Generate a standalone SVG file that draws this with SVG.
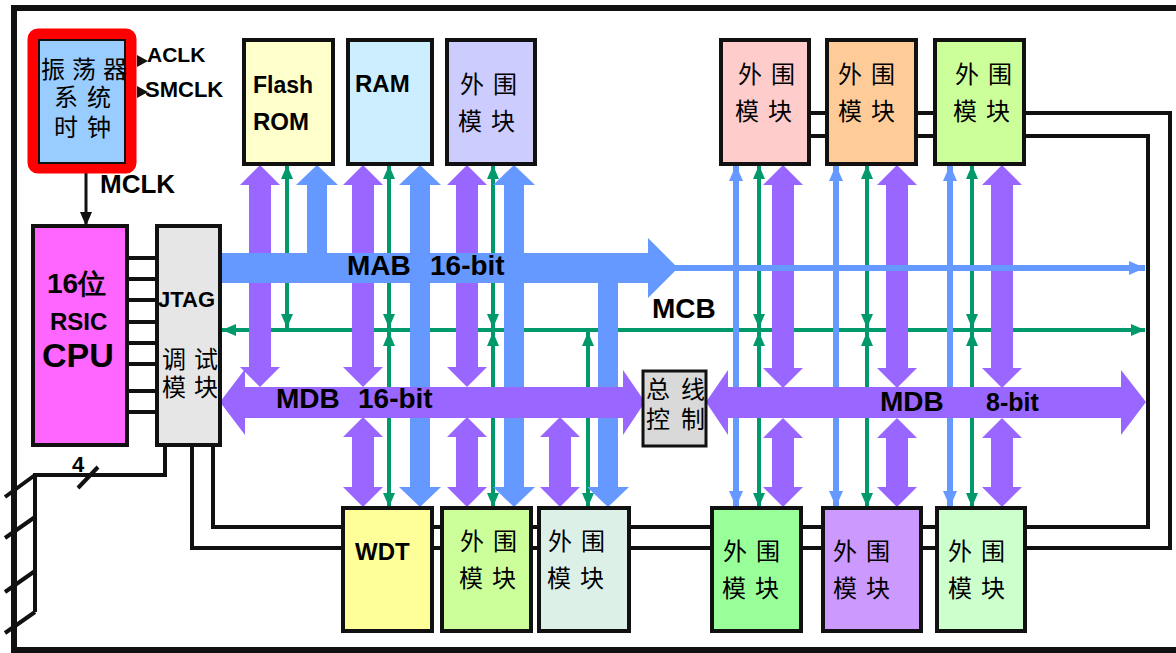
<svg xmlns="http://www.w3.org/2000/svg" width="1176" height="653" viewBox="0 0 1176 653">
<style>
.box{stroke:#111;stroke-width:4}
.lat{font-family:"Liberation Sans",Arial,sans-serif;font-weight:bold;fill:#000}
.cjk{font-family:"Noto Sans CJK SC",sans-serif;font-size:24px;letter-spacing:9px;fill:#000}
.wire{fill:none;stroke:#111;stroke-width:4}
.g{stroke:#00996b;stroke-width:4;fill:none}
.b{stroke:#6699ff;stroke-width:6;fill:none}
.pur{fill:#9966ff}
.blu{fill:#6699ff}
</style>
<defs>
<marker id="ga" markerUnits="userSpaceOnUse" markerWidth="14" markerHeight="12" refX="14" refY="6" orient="auto-start-reverse"><path d="M0,0 L14,6 L0,12 z" fill="#00996b"/></marker>
<marker id="ba" markerUnits="userSpaceOnUse" markerWidth="16" markerHeight="14" refX="16" refY="7" orient="auto-start-reverse"><path d="M0,0 L16,7 L0,14 z" fill="#6699ff"/></marker>
<marker id="ka" markerUnits="userSpaceOnUse" markerWidth="14" markerHeight="12" refX="14" refY="6" orient="auto"><path d="M0,0 L14,6 L0,12 z" fill="#111"/></marker>
</defs>
<rect x="0" y="0" width="1176" height="653" fill="#fff"/>
<rect x="14" y="8" width="1175" height="642" fill="none" stroke="#111" stroke-width="6"/>

<g id="connectors">
<path class="wire" d="M192,445 V548 H1170 V113 H765"/>
<path class="wire" d="M213,445 V527 H1148 V136 H765"/>
<path class="wire" d="M165,445 V475 H35 V612"/>
<path class="wire" d="M35,475 L5,497 M35,517 L5,538 M35,571 L5,592 M35,612 L5,633 M78,488 L98,467"/>
<path class="wire" d="M127,258 H157 M127,279 H157 M127,300 H157 M127,322 H157 M127,343 H157 M127,364 H157 M127,391 H157 M127,412 H157"/>
<polygon points="137,55 148,61 137,67" fill="#111"/>
<polygon points="137,86 148,92 137,98" fill="#111"/>
<line x1="86" y1="173" x2="86" y2="226" stroke="#111" stroke-width="3" marker-end="url(#ka)"/>
<line class="g" x1="222" y1="330" x2="1145" y2="330" marker-start="url(#ga)" marker-end="url(#ga)"/>
<g class="g">
<line x1="287" y1="165" x2="287" y2="328" marker-start="url(#ga)" marker-end="url(#ga)"/>
<line x1="389" y1="165" x2="389" y2="328" marker-start="url(#ga)" marker-end="url(#ga)"/>
<line x1="389" y1="332" x2="389" y2="507" marker-start="url(#ga)" marker-end="url(#ga)"/>
<line x1="493" y1="165" x2="493" y2="328" marker-start="url(#ga)" marker-end="url(#ga)"/>
<line x1="493" y1="332" x2="493" y2="507" marker-start="url(#ga)" marker-end="url(#ga)"/>
<line x1="588" y1="332" x2="588" y2="507" marker-start="url(#ga)" marker-end="url(#ga)"/>
<line x1="759" y1="165" x2="759" y2="328" marker-start="url(#ga)" marker-end="url(#ga)"/>
<line x1="759" y1="332" x2="759" y2="507" marker-start="url(#ga)" marker-end="url(#ga)"/>
<line x1="867" y1="165" x2="867" y2="328" marker-start="url(#ga)" marker-end="url(#ga)"/>
<line x1="867" y1="332" x2="867" y2="507" marker-start="url(#ga)" marker-end="url(#ga)"/>
<line x1="972" y1="165" x2="972" y2="328" marker-start="url(#ga)" marker-end="url(#ga)"/>
<line x1="972" y1="332" x2="972" y2="507" marker-start="url(#ga)" marker-end="url(#ga)"/>
</g>
<g class="pur">
<polygon points="260,165 280,185 271,185 271,367 280,367 260,387 240,367 249,367 249,185 240,185"/>
<polygon points="363,165 383,185 374,185 374,367 383,367 363,387 343,367 352,367 352,185 343,185"/>
<polygon points="467,165 487,185 478,185 478,367 487,367 467,387 447,367 456,367 456,185 447,185"/>
<polygon points="363,417 383,437 374,437 374,487 383,487 363,507 343,487 352,487 352,437 343,437"/>
<polygon points="467,417 487,437 478,437 478,487 487,487 467,507 447,487 456,487 456,437 447,437"/>
<polygon points="560,417 580,437 571,437 571,487 580,487 560,507 540,487 549,487 549,437 540,437"/>
<polygon points="783,165 803,185 794,185 794,368 803,368 783,388 763,368 772,368 772,185 763,185"/>
<polygon points="897,165 917,185 908,185 908,368 917,368 897,388 877,368 886,368 886,185 877,185"/>
<polygon points="1002,165 1022,185 1013,185 1013,368 1022,368 1002,388 982,368 991,368 991,185 982,185"/>
<polygon points="783,418 803,438 794,438 794,487 803,487 783,507 763,487 772,487 772,438 763,438"/>
<polygon points="897,418 917,438 908,438 908,487 917,487 897,507 877,487 886,487 886,438 877,438"/>
<polygon points="1002,418 1022,438 1013,438 1013,487 1022,487 1002,507 982,487 991,487 991,438 982,438"/>
</g>
<g class="b">
<line x1="736" y1="165" x2="736" y2="507" marker-start="url(#ba)" marker-end="url(#ba)"/>
<line x1="836" y1="165" x2="836" y2="507" marker-start="url(#ba)" marker-end="url(#ba)"/>
<line x1="950" y1="165" x2="950" y2="507" marker-start="url(#ba)" marker-end="url(#ba)"/>
<line x1="670" y1="268" x2="1145" y2="268" marker-end="url(#ba)"/>
</g>
<g class="blu">
<polygon points="317,165 338,185 327,185 327,256 307,256 307,185 296,185"/>
<polygon points="420,165 441,185 430,185 430,487 441,487 420,507 399,487 410,487 410,185 399,185"/>
<polygon points="514,165 535,185 524,185 524,487 535,487 514,507 493,487 504,487 504,185 493,185"/>
<polygon points="598,280 618,280 618,487 629,487 608,507 587,487 598,487"/>
<polygon points="220,253 648,253 648,238 678,268 648,298 648,283 220,283"/>
</g>
<g class="pur">
<polygon points="220,402 245,369 245,387 623,387 623,370 645,402 623,435 623,418 245,418 245,435"/>
<polygon points="706,402 728,370 728,387 1121,387 1121,370 1146,402 1121,435 1121,418 728,418 728,435"/>
</g>
<text class="lat" x="347" y="275" font-size="28">MAB<tspan x="430">16-bit</tspan></text>
<text class="lat" x="652" y="318" font-size="28">MCB</text>
<text class="lat" x="276" y="408" font-size="28">MDB<tspan x="358">16-bit</tspan></text>
<text class="lat" x="880" y="411" font-size="28">MDB<tspan x="986" font-size="25">8-bit</tspan></text>
</g>

<g id="clock">
<rect x="33" y="34" width="98" height="134" rx="5" fill="#ff0000" stroke="#ff0000" stroke-width="11"/>
<rect x="39" y="40" width="86" height="123" fill="#99ccff" stroke="#111" stroke-width="2"/>
<text class="cjk" x="41" y="78" style="font-size:24px;letter-spacing:7px">振荡器</text>
<text class="cjk" x="54" y="106" style="font-size:24px;letter-spacing:9px">系统</text>
<text class="cjk" x="54" y="136" style="font-size:24px;letter-spacing:9px">时钟</text>
<text class="lat" x="147" y="62" font-size="21">ACLK</text>
<text class="lat" x="145" y="97" font-size="22">SMCLK</text>
<text class="lat" x="100" y="193" font-size="26">MCLK</text>
</g>

<g id="cpu">
<rect class="box" x="33" y="226" width="94" height="219" fill="#ff66ff"/>
<text class="lat" x="47" y="293" font-size="28" font-family="Liberation Sans, Noto Sans CJK SC, sans-serif">16位</text>
<text class="lat" x="50" y="330" font-size="24">RSIC</text>
<text class="lat" x="42" y="367" font-size="34">CPU</text>
<text class="lat" x="72" y="472" font-size="22">4</text>
</g>

<g id="jtag">
<rect class="box" x="157" y="226" width="63" height="219" fill="#e6e6e6"/>
<text class="lat" x="158" y="307" font-size="22">JTAG</text>
<text class="cjk" x="162" y="368" style="letter-spacing:8px">调试</text>
<text class="cjk" x="162" y="396" style="letter-spacing:8px">模块</text>
</g>

<g id="flash">
<rect class="box" x="244" y="40" width="89" height="124" fill="#ffffcc"/>
<text class="lat" x="253" y="93" font-size="23">Flash</text>
<text class="lat" x="253" y="130" font-size="24">ROM</text>
</g>
<g id="ram">
<rect class="box" x="348" y="40" width="84" height="124" fill="#cceeff"/>
<text class="lat" x="355" y="92" font-size="24">RAM</text>
</g>
<g id="periph-top1">
<rect class="box" x="447" y="40" width="88" height="124" fill="#ccccff"/>
<text class="cjk" x="460" y="93">外围</text>
<text class="cjk" x="458" y="130">模块</text>
</g>
<g id="periph-top2">
<rect class="box" x="721" y="40" width="88" height="124" fill="#ffcccc"/>
<text class="cjk" x="738" y="83">外围</text>
<text class="cjk" x="735" y="120">模块</text>
</g>
<g id="periph-top3">
<rect class="box" x="827" y="40" width="89" height="124" fill="#ffcc99"/>
<text class="cjk" x="838" y="83">外围</text>
<text class="cjk" x="838" y="120">模块</text>
</g>
<g id="periph-top4">
<rect class="box" x="935" y="40" width="89" height="124" fill="#ccff99"/>
<text class="cjk" x="955" y="83">外围</text>
<text class="cjk" x="953" y="120">模块</text>
</g>

<g id="busctrl">
<rect class="box" x="643" y="371" width="63" height="75" fill="#d9d9d9" style="stroke-width:3"/>
<text class="cjk" x="646" y="398" style="font-size:24px;letter-spacing:11px">总线</text>
<text class="cjk" x="646" y="428" style="font-size:24px;letter-spacing:11px">控制</text>
</g>

<g id="wdt">
<rect class="box" x="343" y="508" width="89" height="123" fill="#ffff99"/>
<text class="lat" x="355" y="560" font-size="24">WDT</text>
</g>
<g id="periph-bot1">
<rect class="box" x="442" y="508" width="89" height="123" fill="#ccff99"/>
<text class="cjk" x="460" y="550">外围</text>
<text class="cjk" x="459" y="587">模块</text>
</g>
<g id="periph-bot2">
<rect class="box" x="539" y="508" width="90" height="123" fill="#ddf0e8"/>
<text class="cjk" x="548" y="550">外围</text>
<text class="cjk" x="547" y="587">模块</text>
</g>
<g id="periph-bot3">
<rect class="box" x="712" y="508" width="89" height="123" fill="#99ff99"/>
<text class="cjk" x="723" y="560">外围</text>
<text class="cjk" x="722" y="597">模块</text>
</g>
<g id="periph-bot4">
<rect class="box" x="823" y="508" width="98" height="123" fill="#cc99ff"/>
<text class="cjk" x="833" y="560">外围</text>
<text class="cjk" x="833" y="597">模块</text>
</g>
<g id="periph-bot5">
<rect class="box" x="937" y="508" width="88" height="123" fill="#ccffcc"/>
<text class="cjk" x="948" y="560">外围</text>
<text class="cjk" x="948" y="597">模块</text>
</g>
</svg>
